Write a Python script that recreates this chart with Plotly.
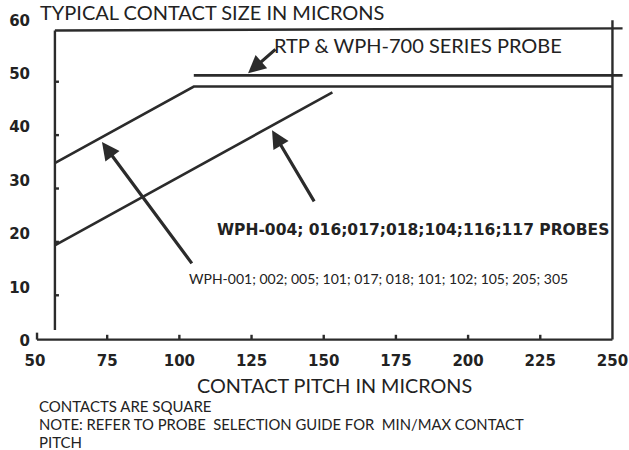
import plotly.graph_objects as go

# ---- data ----
pitch_small = [57, 105, 250]          # WPH-001 ... series: contact pitch (microns)
size_small = [33.3, 47.6, 47.6]       # contact size (microns)

pitch_004 = [57, 153]                 # WPH-004 ... probes
size_004 = [17.9, 46.5]

pitch_rtp = [105, 253.5]              # RTP & WPH-700 series
size_rtp = [49.7, 49.7]

x_ticks = [50, 75, 100, 125, 150, 175, 200, 225, 250]
y_ticks = [0, 10, 20, 30, 40, 50, 60]

INK = "#2b2b2b"
TXT = "#222222"
FONT = "Lato, 'Open Sans', sans-serif"
BOLD = "'DejaVu Sans', 'Liberation Sans', sans-serif"

fig = go.Figure()
for xs, ys in [(pitch_small, size_small), (pitch_004, size_004), (pitch_rtp, size_rtp)]:
    fig.add_trace(go.Scatter(x=xs, y=ys, mode="lines",
                             line=dict(color=INK, width=2.6), showlegend=False,
                             hoverinfo="skip"))

# frame (scanned chart box)
shapes = [
    dict(type="line", x0=56.9, x1=56.9, y0=2.0, y1=58.1),
    dict(type="line", x0=56.9, x1=253.5, y0=58.1, y1=58.5),
    dict(type="line", x0=250, x1=250, y0=0.2, y1=60),
    dict(type="line", x0=50.7, x1=250, y0=0.2, y1=0.2),
    dict(type="line", x0=50.7, x1=50.7, y0=0.2, y1=1.5),
]
for t in x_ticks[1:-1]:
    shapes.append(dict(type="line", x0=t, x1=t, y0=0.2, y1=1.1))
for t in y_ticks[1:-1]:
    shapes.append(dict(type="line", x0=56.9, x1=58.3, y0=t - 1.5, y1=t - 1.5))
for s in shapes:
    s.update(xref="x", yref="y", line=dict(color=INK, width=2.4), layer="above")

annotations = []
# arrows: (head x, head y, tail x, tail y)
for hx, hy, tx, ty in [(73.2, 37.2, 104.7, 14.2), (132.1, 39.4, 147.0, 25.8),
                       (123.8, 50.1, 133.8, 54.8)]:
    annotations.append(dict(x=hx, y=hy, ax=tx, ay=ty, xref="x", yref="y",
                            axref="x", ayref="y", text="", showarrow=True,
                            arrowhead=2, arrowsize=1.1, arrowwidth=3.2,
                            arrowcolor=INK))

def label(text, x, y, size, xanchor="left", bold=False, family=FONT, ref="data"):
    r = ("x", "y") if ref == "data" else ("paper", "paper")
    annotations.append(dict(x=x, y=y, xref=r[0], yref=r[1], text=text,
                            showarrow=False, xanchor=xanchor, yanchor="middle",
                            font=dict(family=family, size=size, color=TXT,
                                      weight="bold" if bold else "normal")))

label("RTP &amp; WPH-700 SERIES PROBE", 132.2, 55.3, 20)
label("WPH-004; 016;017;018;104;116;117 PROBES", 112.3, 20.7, 15.5, bold=True,
      family=BOLD)
label("WPH-001; 002; 005; 101; 017; 018; 101; 102; 105; 205; 305", 102.6, 11.6, 14)

# texts outside the plotting area (paper coordinates)
label("TYPICAL CONTACT SIZE IN MICRONS", 0.005, 1.009, 20, ref="paper")
label("CONTACT PITCH IN MICRONS", 0.5085, -0.118, 19.8, xanchor="center", ref="paper")
label("CONTACTS ARE SQUARE", 0.0034, -0.181, 15, ref="paper")
label("NOTE: REFER TO PROBE\u00a0 SELECTION GUIDE FOR\u00a0 MIN/MAX CONTACT", 0.0034, -0.236, 14.8, ref="paper")
label("PITCH", 0.0034, -0.290, 15, ref="paper")

tickfont = dict(family=BOLD, size=15, color=TXT, weight="bold")

fig.update_layout(
    width=629, height=450,
    margin=dict(l=35, r=5, t=15, b=104),
    paper_bgcolor="white", plot_bgcolor="white",
    shapes=shapes, annotations=annotations,
    xaxis=dict(range=[50, 254], tickvals=x_ticks, ticks="", showgrid=False,
               zeroline=False, showline=False, tickfont=tickfont,
               ticklabelstandoff=4, automargin=False),
    yaxis=dict(range=[-1, 61], tickvals=y_ticks, ticks="", showgrid=False,
               zeroline=False, showline=False, tickfont=tickfont,
               ticklabelstandoff=4, automargin=False),
)

fig.write_html("out.html", config={"displayModeBar": False},
               post_script="document.body.style.margin='0';document.body.style.overflow='hidden';")
